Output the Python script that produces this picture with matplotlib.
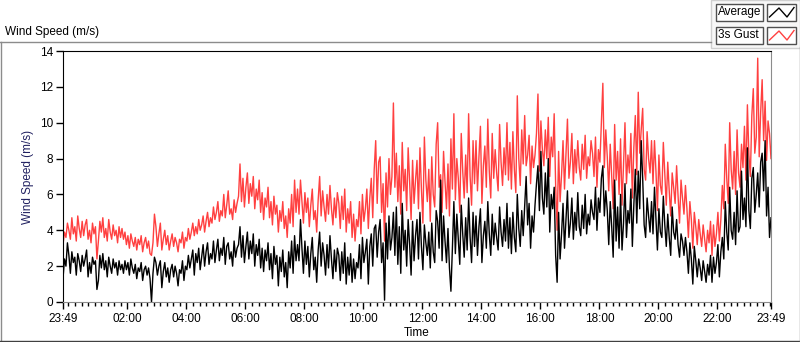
import matplotlib.pyplot as plt
import numpy as np
from matplotlib.lines import Line2D
from matplotlib.patches import Rectangle

plt.rcParams['font.family'] = ['Liberation Sans', 'DejaVu Sans']

# one sample every 3 minutes, from 23:49 to 23:49 next day (one row = 2 hours)
step_min = 3

gust = [
    3.2, 3.9, 3.6, 4.4, 4.0, 3.5, 4.7, 3.8, 4.2, 3.4, 4.8, 4.1, 3.6, 4.5, 3.7, 4.3, 4.6, 3.5, 4.0, 3.3,
    4.4, 3.8, 4.2, 2.4, 3.4, 4.5, 3.9, 4.7, 3.6, 4.1, 3.4, 4.6, 3.9, 3.5, 4.3, 3.7, 4.0, 3.3, 4.2, 3.6,
    4.1, 3.5, 3.9, 3.2, 3.7, 3.0, 3.8, 3.4, 3.1, 3.6, 2.9, 3.5, 3.2, 3.7, 2.8, 3.3, 3.6, 3.0, 3.4, 2.7,
    2.6, 3.3, 4.9, 4.2, 3.1, 3.8, 4.4, 2.9, 3.5, 4.0, 3.2, 3.7, 2.9, 3.4, 3.8, 3.1, 3.6, 3.3, 2.8, 3.5,
    3.3, 3.9, 3.0, 3.6, 3.4, 4.1, 3.5, 3.9, 4.4, 3.7, 4.2, 3.8, 4.6, 4.0, 4.3, 4.8, 3.9, 4.5, 5.0, 4.2,
    4.7, 4.4, 5.3, 4.6, 5.0, 5.6, 4.5, 5.1, 4.8, 6.0, 4.7, 5.4, 6.2, 4.9, 5.2, 4.6, 5.7, 5.0, 5.5, 5.9,
    7.7, 5.6, 6.9, 5.3, 6.4, 7.2, 5.5, 6.6, 5.9, 7.0, 5.2, 6.3, 5.7, 6.8, 5.0, 6.1, 4.6, 5.8, 5.3, 6.4,
    4.7, 5.6, 4.3, 5.9, 4.9, 5.4, 3.9, 5.1, 4.5, 5.6, 4.1, 4.8, 3.6, 5.2, 4.4, 6.0, 4.2, 6.8, 5.0, 6.3,
    4.9, 6.8, 5.6, 4.4, 6.1, 5.0, 5.8, 4.2, 5.4, 6.3, 4.6, 5.1, 3.9, 5.7, 7.0, 4.8, 6.2, 5.3, 4.5, 6.0,
    4.9, 6.5, 5.2, 4.3, 5.8, 4.7, 6.1, 5.5, 4.1, 5.9, 4.6, 6.3, 3.9, 5.2, 4.4, 5.6, 3.6, 4.9, 3.4, 4.6,
    4.2, 5.6, 3.8, 6.0, 4.5, 5.2, 6.3, 4.1, 5.8, 6.9, 4.7, 7.4, 9.0, 5.5, 7.8, 8.1, 5.0, 6.6, 3.4, 7.2,
    5.3, 8.0, 6.0, 7.0, 11.1, 6.4, 8.3, 5.6, 7.6, 4.9, 8.9, 6.2, 7.4, 5.1, 8.6, 6.7, 4.6, 7.9, 5.5, 6.8,
    7.9, 5.2, 8.6, 6.3, 4.4, 9.2, 6.8, 5.6, 7.4, 4.5, 8.1, 6.0, 5.3, 8.8, 10.0, 6.4, 7.1, 5.0, 8.4, 6.7,
    5.2, 7.7, 4.8, 9.1, 6.3, 10.5, 5.7, 8.0, 6.9, 5.0, 9.4, 7.3, 5.8, 8.2, 6.1, 10.5, 7.0, 5.4, 9.0, 6.6,
    9.0, 6.2, 8.1, 9.8, 5.5, 7.6, 8.7, 6.4, 10.2, 7.3, 5.8, 9.4, 6.9, 8.5, 7.2, 6.2, 9.9, 7.8, 6.5, 8.6,
    7.1, 10.0, 6.8, 8.9, 6.3, 9.5, 7.4, 6.1, 11.5, 8.0, 6.5, 9.6, 7.7, 10.4, 7.6, 8.2, 9.3, 6.6, 8.7, 7.5,
    8.2, 9.4, 11.6, 7.3, 10.1, 8.5, 7.6, 9.6, 8.0, 10.3, 7.0, 9.2, 8.1, 10.5, 6.5, 4.0, 8.4, 5.6, 7.1, 9.0,
    6.3, 8.2, 10.2, 6.9, 7.8, 9.4, 6.6, 8.5, 7.2, 9.0, 7.5, 6.8, 8.8, 7.4, 9.3, 6.9, 8.1, 7.6, 9.0, 8.3,
    7.0, 9.2, 6.4, 8.5, 7.8, 10.0, 12.2, 7.5, 9.6, 8.1, 6.2, 8.8, 7.0, 5.2, 9.9, 6.8, 8.4, 6.0, 9.1, 5.4,
    7.6, 10.0, 6.6, 8.2, 7.2, 9.4, 5.8, 8.6, 10.4, 7.1, 11.7, 8.3, 9.6, 10.8, 7.4, 6.8, 9.5, 8.0, 7.2, 9.0,
    6.6, 9.0, 7.3, 5.1, 8.2, 6.5, 6.0, 8.9, 7.1, 5.4, 7.8, 6.2, 4.8, 7.2, 6.4, 5.5, 7.6, 5.9, 4.4, 6.8,
    5.8, 4.9, 6.5, 5.2, 3.6, 5.6, 4.6, 3.0, 5.0, 4.2, 3.2, 4.6, 3.8, 3.1, 4.3, 3.5, 2.8, 4.0, 3.3, 4.5,
    2.6, 4.3, 3.1, 3.8, 5.0, 3.4, 4.6, 6.5, 5.2, 8.8, 6.9, 5.5, 10.0, 7.4, 6.3, 8.4, 6.0, 9.6, 7.2, 6.4,
    8.8, 7.5, 9.8, 6.8, 11.0, 8.2, 7.0, 10.4, 11.9, 8.3, 9.2, 13.6, 8.1, 10.6, 12.4, 9.0, 11.2, 7.9, 10.1, 9.4,
    8.0,
]

average = [
    1.3, 2.4, 2.0, 3.3, 2.6, 1.6, 2.8, 2.2, 2.5, 1.5, 2.7, 2.3, 1.7, 2.6, 2.0, 2.4, 2.9, 1.4, 2.2, 1.6,
    2.5, 2.1, 2.3, 0.7, 1.2, 2.6, 1.9, 2.7, 1.8, 2.3, 1.4, 2.5, 2.0, 1.6, 2.4, 1.9, 2.2, 1.5, 2.3, 1.8,
    2.1, 1.6, 2.3, 1.8, 2.2, 1.5, 2.4, 1.9, 1.6, 2.1, 1.3, 1.9, 1.7, 2.2, 1.2, 1.8, 2.0, 1.5, 1.9, 1.3,
    0.0, 1.6, 2.5, 2.2, 1.5, 2.0, 2.3, 0.8, 1.7, 2.2, 1.4, 1.9, 1.1, 1.8, 2.1, 1.4, 2.0, 1.6, 0.9, 1.8,
    1.6, 2.3, 1.2, 2.0, 1.8, 2.6, 1.9, 2.4, 2.9, 1.5, 2.7, 2.2, 3.0, 1.8, 2.5, 3.2, 2.0, 2.8, 3.3, 2.1,
    2.7, 2.4, 3.4, 2.2, 2.9, 3.5, 2.3, 3.0, 2.6, 3.6, 2.1, 3.1, 3.3, 2.4, 2.8, 2.0, 3.4, 2.5, 3.0, 3.2,
    4.2, 2.5, 3.7, 2.2, 3.1, 3.9, 2.4, 3.4, 2.7, 3.8, 2.0, 3.2, 2.6, 3.5, 1.9, 3.0, 1.7, 2.9, 2.3, 3.3,
    1.8, 2.7, 1.3, 3.1, 2.1, 2.6, 0.9, 2.5, 1.7, 2.9, 1.4, 2.2, 0.8, 2.8, 1.9, 3.4, 1.6, 3.7, 2.3, 3.2,
    2.3, 4.6, 3.0, 1.6, 3.4, 2.1, 3.1, 1.4, 2.7, 3.6, 1.8, 2.5, 1.1, 2.9, 3.9, 2.0, 3.3, 2.6, 1.5, 3.2,
    1.9, 3.7, 2.4, 1.3, 2.9, 1.7, 3.0, 2.6, 1.2, 2.8, 1.6, 3.3, 1.0, 2.5, 1.5, 2.7, 1.1, 2.4, 1.3, 2.2,
    1.9, 3.2, 1.3, 3.6, 2.2, 2.8, 3.5, 1.0, 3.1, 3.8, 2.0, 4.1, 4.3, 2.5, 3.9, 4.6, 2.2, 3.3, 0.1, 4.4,
    2.4, 4.8, 2.9, 3.6, 5.0, 2.6, 5.3, 2.1, 4.2, 1.6, 5.5, 2.9, 4.0, 2.0, 4.6, 3.2, 1.5, 4.5, 2.3, 3.7,
    4.6, 2.4, 5.0, 3.1, 1.8, 4.3, 3.3, 2.6, 3.9, 1.9, 4.4, 2.8, 2.2, 5.1, 4.5, 3.0, 6.8, 2.3, 4.8, 3.4,
    2.2, 4.1, 1.9, 0.6, 3.0, 5.6, 2.7, 4.9, 3.5, 2.1, 5.4, 3.8, 2.5, 4.7, 2.9, 5.8, 3.6, 2.2, 5.0, 3.1,
    4.8, 2.6, 4.2, 5.2, 2.2, 3.7, 4.5, 3.0, 5.6, 3.8, 2.6, 4.9, 3.2, 4.4, 3.6, 2.9, 5.3, 3.9, 3.1, 4.6,
    3.4, 5.5, 3.0, 4.7, 2.7, 5.0, 3.6, 2.8, 6.0, 4.1, 3.1, 5.1, 3.7, 5.4, 7.0, 4.3, 5.5, 3.0, 4.8, 3.9,
    5.4, 6.6, 7.6, 5.1, 8.4, 5.8, 4.9, 7.2, 5.3, 8.0, 3.9, 6.0, 5.2, 6.4, 2.6, 1.1, 5.0, 2.4, 3.8, 5.5,
    3.0, 4.6, 6.2, 3.6, 4.4, 5.8, 3.5, 5.0, 4.0, 6.1, 4.2, 3.7, 5.4, 4.1, 6.0, 3.8, 4.9, 4.3, 5.7, 5.0,
    4.6, 6.4, 4.0, 5.8, 5.0, 6.9, 7.6, 4.8, 6.2, 5.1, 3.2, 5.6, 4.2, 2.5, 6.8, 3.4, 5.3, 3.0, 6.0, 2.9,
    4.4, 6.6, 3.6, 5.1, 4.4, 6.3, 3.1, 5.4, 7.4, 4.4, 7.3, 5.2, 9.0, 6.9, 4.3, 3.6, 5.8, 4.8, 3.9, 5.6,
    3.8, 6.4, 4.6, 2.9, 5.2, 3.9, 3.6, 5.9, 4.3, 3.1, 4.9, 3.6, 2.6, 5.3, 3.9, 3.5, 4.6, 3.2, 2.5, 3.8,
    3.4, 2.6, 3.6, 2.8, 1.6, 3.3, 2.4, 1.0, 3.1, 2.3, 1.4, 2.4, 1.9, 1.2, 2.3, 1.7, 1.1, 2.1, 1.5, 2.6,
    1.1, 2.5, 1.6, 2.2, 3.2, 1.4, 2.8, 3.6, 2.4, 5.6, 3.9, 2.9, 6.4, 4.0, 3.5, 5.0, 3.2, 6.2, 3.9, 4.2,
    7.3, 4.6, 5.8, 4.2, 8.6, 5.1, 4.1, 6.9, 7.5, 5.0, 6.0, 7.2, 5.3, 7.8, 8.3, 6.2, 9.0, 4.8, 6.4, 3.6,
    4.7,
]

tick_labels = ['23:49', '02:00', '04:00', '06:00', '08:00', '10:00', '12:00',
               '14:00', '16:00', '18:00', '20:00', '22:00', '23:49']

minutes = np.arange(len(gust)) * step_min

W, H = 800, 342
fig = plt.figure(figsize=(W / 100, H / 100), dpi=100)

def fx(px):
    return px / W

def fy(py):
    return 1 - py / H

ax = fig.add_axes([fx(63), fy(302), fx(771) - fx(63), fy(51) - fy(302)])
ax.plot(minutes, gust, color='#ff4040', lw=1)
ax.plot(minutes, average, color='black', lw=1)

ax.set_xlim(0, 1440)
ax.set_ylim(0, 14)
ax.set_yticks(np.arange(0, 15, 2))
major = [0] + [131 + 120 * i for i in range(11)] + [1440]
ax.set_xticks(major)
ax.set_xticklabels(tick_labels)
minor = [131 + k * 120 / 9 for k in range(-9, 100) if 0 < 131 + k * 120 / 9 < 1440]
ax.set_xticks(minor, minor=True)
ax.tick_params(axis='both', which='major', direction='out', length=5, width=1,
               labelsize=8.5, colors='black')
ax.tick_params(axis='x', which='minor', direction='out', length=3, width=1, color='black')
ax.tick_params(axis='x', pad=3)
ax.tick_params(axis='y', pad=2)

for s in ['left', 'top']:
    ax.spines[s].set_color('black')
for s in ['right', 'bottom']:
    ax.spines[s].set_color('#8c8c8c')

ax.set_xlabel('Time', fontsize=8.5, labelpad=1)
ax.set_ylabel('Wind Speed (m/s)', fontsize=8.5, color='#202060', labelpad=4)

# chart title and panel frame
fig.text(fx(5), fy(32), 'Wind Speed (m/s)', fontsize=8.5, va='center', ha='left')
fig.add_artist(Line2D([0, fx(711)], [fy(41.5), fy(41.5)], color='#8c8c8c', lw=1))
fig.add_artist(Line2D([fx(0.5), fx(0.5)], [fy(41.5), fy(341)], color='#8c8c8c', lw=1))
fig.add_artist(Line2D([0, 1], [fy(340.5), fy(340.5)], color='#404040', lw=1))
fig.add_artist(Line2D([fx(799.5), fx(799.5)], [fy(47), fy(341)], color='#8c8c8c', lw=1))

# legend panel
fig.add_artist(Rectangle((fx(711), fy(47.5)), fx(89), fy(0) - fy(47.5),
                         facecolor='#f7f7f7', edgecolor='#d0d0d0', lw=1))
legend_items = [('Average', 'black', 4), ('3s Gust', '#ff4040', 27)]
for name, col, top in legend_items:
    fig.add_artist(Rectangle((fx(716), fy(top + 17)), fx(47), fy(0) - fy(17),
                             facecolor='white', edgecolor='#505050', lw=1))
    fig.text(fx(718), fy(top + 8.5), name, fontsize=8.5, va='center', ha='left')
    fig.add_artist(Rectangle((fx(767), fy(top + 17)), fx(29), fy(0) - fy(17),
                             facecolor='white', edgecolor='#505050', lw=1))
    zx = [769.5, 779, 787, 794]
    zy = [top + 13, top + 4, top + 13, top + 3.5]
    fig.add_artist(Line2D([fx(v) for v in zx], [fy(v) for v in zy], color=col, lw=1))

fig.savefig('out.png', dpi=100)
